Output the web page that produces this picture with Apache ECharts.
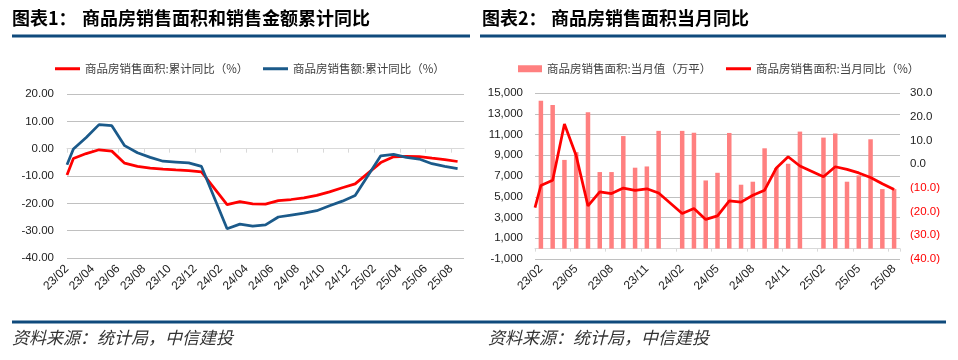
<!DOCTYPE html>
<html><head><meta charset="utf-8">
<script src="https://cdn.jsdelivr.net/npm/echarts@6/dist/echarts.min.js"></script>
<style>html,body{margin:0;padding:0;background:#fff}#c{width:958px;height:360px}</style>
</head><body><div id="c"></div>
<script>
// ---- data ----
const months = ['23/02','23/03','23/04','23/05','23/06','23/07','23/08','23/09','23/10','23/11','23/12',
  '24/01','24/02','24/03','24/04','24/05','24/06','24/07','24/08','24/09','24/10','24/11','24/12',
  '25/01','25/02','25/03','25/04','25/05','25/06','25/07','25/08'];
// chart 1: cumulative YoY (%)
const areaCumStart = -9.6;
const salesCumStart = -5.9;
const areaCumYoY = [-3.6,-1.8,-0.4,-0.9,-5.3,-6.5,-7.1,-7.5,-7.8,-8.0,-8.5,
  null,-20.5,-19.4,-20.2,-20.3,-19.0,-18.6,-18.0,-17.1,-15.8,-14.3,-12.9,
  null,-5.1,-3.0,-2.8,-2.9,-3.5,-4.0,-4.7];
const salesCumYoY = [-0.1,4.1,8.8,8.4,1.1,-1.5,-3.2,-4.6,-4.9,-5.2,-6.5,
  null,-29.3,-27.6,-28.3,-27.9,-25.0,-24.3,-23.6,-22.7,-20.9,-19.2,-17.1,
  null,-2.6,-2.1,-3.2,-3.8,-5.5,-6.5,-7.3];
// chart 2: monthly area (10k m2) and monthly YoY (%)
const monthlyArea = [14250,13850,8550,9300,13150,7380,7380,10850,7800,7920,11350,
  null,11350,11170,6570,7310,11150,6160,6450,9670,7770,8180,11280,
  null,10700,11100,6450,7060,10540,5740,5740];
const monthlyYoYStart = -18.3;
const monthlyYoY = [-9.0,-6.8,16.9,3.5,-17.6,-11.7,-12.4,-10.1,-11.1,-10.4,-12.2,
  null,-20.8,-18.7,-23.3,-21.8,-15.5,-16.0,-13.1,-11.0,-1.6,3.1,-0.8,
  null,-5.3,-1.1,-2.2,-3.7,-5.6,-8.3,-10.7];

const names = {
  a: '商品房销售面积:累计同比（%）',
  s: '商品房销售额:累计同比（%）',
  m: '商品房销售面积:当月值（万平）',
  y: '商品房销售面积:当月同比（%）'
};

// ---- build series data ----
const DATA_OFFSET = 0.5;
function pairs(arr, off, start, startX) {
  const out = [[startX, start]];
  arr.forEach((v, i) => { if (v != null) out.push([i + off, v]); });
  return out;
}
const areaPts = pairs(areaCumYoY, DATA_OFFSET, areaCumStart, 0);
const salesPts = pairs(salesCumYoY, DATA_OFFSET, salesCumStart, 0);
const yoyPts = pairs(monthlyYoY, 0, monthlyYoYStart, -0.5);
const evenTicks = months.map((m, i) => i).filter(i => i % 2 === 0);

const FONT = 'Liberation Sans, Arial, sans-serif';
const CJK = '"Noto Sans CJK SC", sans-serif';
const lblColor = '#222';
const gridColor = '#c0c0c0';

const chart = echarts.init(document.getElementById('c'), null, {renderer: 'canvas'});
const legendBase = {
  orient: 'horizontal', top: 63, itemGap: 10, selectedMode: false,
  textStyle: {fontFamily: CJK, fontSize: 11.5, color: '#404040'}, padding: 0
};
chart.setOption({
  animation: false,
  backgroundColor: '#fff',
  grid: [
    {left: 67, top: 94, width: 397, height: 164},
    {left: 535, top: 93, width: 365, height: 166}
  ],
  legend: [
    Object.assign({}, legendBase, {left: 55, itemWidth: 25, itemHeight: 3, data: [{name: names.a, icon: 'rect'}]}),
    Object.assign({}, legendBase, {left: 263, itemWidth: 25, itemHeight: 3, data: [{name: names.s, icon: 'rect'}]}),
    Object.assign({}, legendBase, {left: 518, itemWidth: 24, itemHeight: 7, data: [{name: names.m, icon: 'rect'}]}),
    Object.assign({}, legendBase, {left: 726, itemWidth: 25, itemHeight: 3, data: [{name: names.y, icon: 'rect'}]})
  ],
  xAxis: [
    { // 0: left chart labels at bottom
      type: 'value', gridIndex: 0, min: 0, max: 31, interval: 2, position: 'bottom',
      axisLine: {show: false, onZero: false}, axisTick: {show: false}, splitLine: {show: false},
      axisLabel: {
        customValues: evenTicks, rotate: 45, margin: 9, fontFamily: FONT, fontSize: 12, color: lblColor,
        formatter: v => (v % 2 === 0 && months[v]) ? months[v] : ''
      }
    },
    { // 1: left chart axis line on zero
      type: 'value', gridIndex: 0, min: 0, max: 31, interval: 2, position: 'bottom',
      axisLine: {show: true, onZero: true, onZeroAxisIndex: 0, lineStyle: {color: '#d9d9d9', width: 1}},
      axisTick: {show: true, customValues: evenTicks, length: 4, lineStyle: {color: '#d9d9d9'}},
      axisLabel: {show: false}, splitLine: {show: false}
    },
    { // 2: right chart labels at bottom
      type: 'category', gridIndex: 1, data: months, position: 'bottom', boundaryGap: true,
      axisLine: {show: false, onZero: false}, axisTick: {show: false}, splitLine: {show: false},
      axisLabel: {interval: 2, rotate: 45, margin: 8, fontFamily: FONT, fontSize: 12, color: lblColor}
    },
    { // 3: right chart axis line on zero
      type: 'category', gridIndex: 1, data: months, position: 'bottom', boundaryGap: true,
      axisLine: {show: true, onZero: true, onZeroAxisIndex: 1, lineStyle: {color: '#d9d9d9', width: 1}},
      axisTick: {show: true, interval: 2, length: 3, lineStyle: {color: '#d9d9d9'}},
      axisLabel: {show: false}, splitLine: {show: false}
    },
    { // 4: right chart line positioning
      type: 'value', gridIndex: 1, min: -0.5, max: 30.5, show: false,
      axisLine: {onZero: false}, splitLine: {show: false}
    }
  ],
  yAxis: [
    {
      type: 'value', gridIndex: 0, min: -40, max: 20, interval: 10,
      axisLine: {show: false, onZero: false}, axisTick: {show: false},
      splitLine: {lineStyle: {color: [gridColor, gridColor, gridColor, gridColor, '#d9d9d9', gridColor, gridColor], width: 1}},
      axisLabel: {margin: 13, fontFamily: FONT, fontSize: 11.5, color: lblColor, formatter: v => v.toFixed(2)}
    },
    {
      type: 'value', gridIndex: 1, min: -1000, max: 15000, interval: 2000, position: 'left',
      axisLine: {show: false, onZero: false}, axisTick: {show: false},
      splitLine: {lineStyle: {color: gridColor, width: 1}},
      axisLabel: {margin: 12, fontFamily: FONT, fontSize: 11.5, color: lblColor,
        formatter: v => v.toLocaleString('en-US')}
    },
    {
      type: 'value', gridIndex: 1, min: -40, max: 30, interval: 10, position: 'right',
      axisLine: {show: false, onZero: false}, axisTick: {show: false}, splitLine: {show: false},
      axisLabel: {margin: 10, fontFamily: FONT, fontSize: 11.5,
        formatter: v => v < 0 ? '{n|(' + Math.abs(v).toFixed(1) + ')}' : '{p|' + v.toFixed(1) + '}',
        rich: {
          n: {color: '#ff0000', fontFamily: FONT, fontSize: 11.5},
          p: {color: lblColor, fontFamily: FONT, fontSize: 11.5}
        }}
    }
  ],
  series: [
    {name: names.a, type: 'line', xAxisIndex: 0, yAxisIndex: 0, data: areaPts, showSymbol: false,
      itemStyle: {color: '#ff0000'}, lineStyle: {color: '#ff0000', width: 2.75}, z: 3},
    {name: names.s, type: 'line', xAxisIndex: 0, yAxisIndex: 0, data: salesPts, showSymbol: false,
      itemStyle: {color: '#1b5a8a'}, lineStyle: {color: '#1b5a8a', width: 2.75}, z: 4},
    {name: names.m, type: 'bar', xAxisIndex: 2, yAxisIndex: 1, data: monthlyArea, barWidth: 4.5,
      itemStyle: {color: '#ff8080'}, z: 2},
    {name: names.y, type: 'line', xAxisIndex: 4, yAxisIndex: 2, data: yoyPts, showSymbol: false,
      itemStyle: {color: '#ff0000'}, lineStyle: {color: '#ff0000', width: 2.75}, z: 4}
  ],
  graphic: [
    {type: 'text', left: 12, top: 9, style: {text: '图表1：', font: 'bold 18px ' + CJK, fill: '#000'}},
    {type: 'text', left: 82, top: 9, style: {text: '商品房销售面积和销售金额累计同比', font: 'bold 18px ' + CJK, fill: '#000'}},
    {type: 'text', left: 482, top: 9, style: {text: '图表2：', font: 'bold 18px ' + CJK, fill: '#000'}},
    {type: 'text', left: 551, top: 9, style: {text: '商品房销售面积当月同比', font: 'bold 18px ' + CJK, fill: '#000'}},
    {type: 'rect', shape: {x: 12, y: 34.5, width: 458, height: 3}, style: {fill: '#0f4a7c'}},
    {type: 'rect', shape: {x: 480, y: 34.5, width: 466, height: 3}, style: {fill: '#0f4a7c'}},
    {type: 'rect', shape: {x: 12, y: 320.5, width: 934, height: 3}, style: {fill: '#0f4a7c'}},
    {type: 'text', left: 12, top: 329, style: {text: '资料来源：统计局，中信建投', font: 'italic 17px ' + CJK, fill: '#333'}},
    {type: 'text', left: 488, top: 329, style: {text: '资料来源：统计局，中信建投', font: 'italic 17px ' + CJK, fill: '#333'}}
  ]
});
</script></body></html>
